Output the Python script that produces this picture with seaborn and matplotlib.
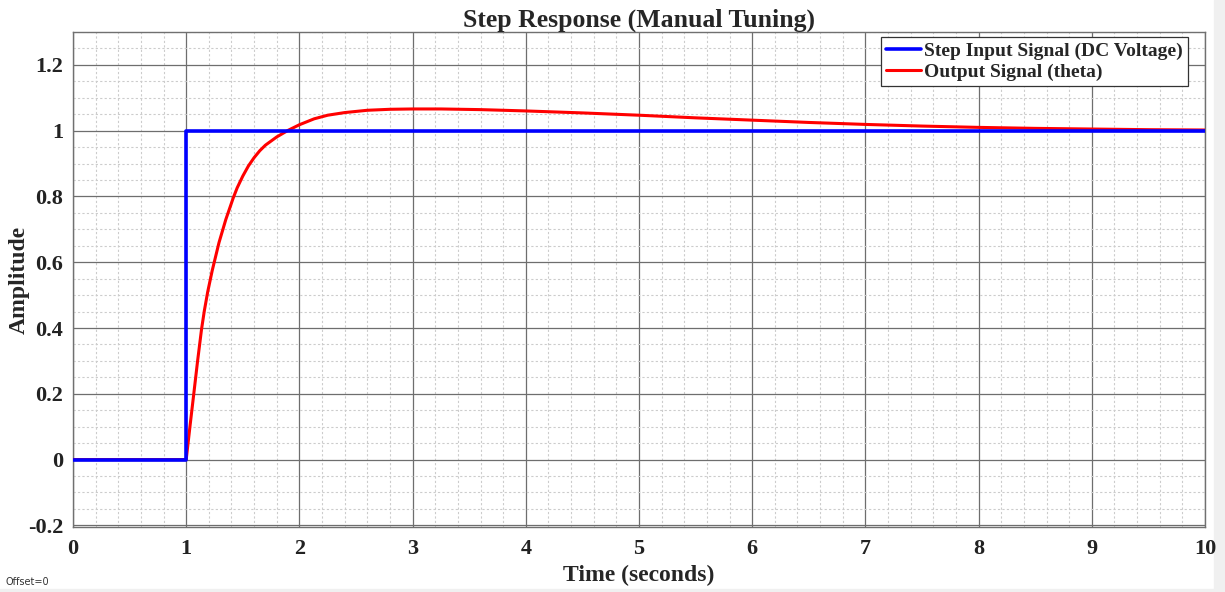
import numpy as np
import pandas as pd
import matplotlib
matplotlib.use("Agg")
import matplotlib.pyplot as plt
from matplotlib.ticker import MultipleLocator
from matplotlib.patches import Rectangle
import seaborn as sns

# Step input (DC voltage)
step_t = [0.0, 1.0, 1.0, 10.0]
step_v = [0.0, 0.0, 1.0, 1.0]

# Output signal (theta)
out_t = [0.0, 1.0, 1.033, 1.067, 1.10, 1.135, 1.16, 1.19, 1.23, 1.29, 1.35,
         1.415, 1.45, 1.50, 1.55, 1.60, 1.65, 1.70, 1.80, 1.90, 2.00, 2.13,
         2.25, 2.40, 2.60, 2.80, 3.00, 3.25, 3.60, 4.00, 4.50, 5.00, 5.50,
         6.00, 6.50, 7.00, 7.50, 8.00, 8.50, 9.00, 9.50, 10.0]
out_v = [0.0, 0.0, 0.100, 0.200, 0.298, 0.395, 0.452, 0.510, 0.575, 0.660, 0.730,
         0.795, 0.826, 0.862, 0.893, 0.918, 0.939, 0.956, 0.981, 1.001, 1.018, 1.036,
         1.047, 1.055, 1.062, 1.065, 1.066, 1.066, 1.064, 1.060, 1.054, 1.047, 1.039,
         1.032, 1.025, 1.019, 1.014, 1.010, 1.007, 1.005, 1.003, 1.002]

step_df = pd.DataFrame({"t": step_t, "v": step_v})
out_df = pd.DataFrame({"t": out_t, "v": out_v})

sns.set_style("white")
plt.rcParams["font.family"] = ["Liberation Serif", "DejaVu Serif"]

fig = plt.figure(figsize=(12.25, 5.92), dpi=100)
ax = fig.add_axes([73 / 1225, 1 - 527 / 592, (1205 - 73) / 1225, (527 - 32) / 592])

# red under blue, like the scope
sns.lineplot(data=out_df, x="t", y="v", color="#ff0000", lw=2.2, ax=ax,
             estimator=None, sort=False, label="Output Signal (theta)", zorder=3)
sns.lineplot(data=step_df, x="t", y="v", color="#0000ff", lw=2.6, ax=ax,
             estimator=None, sort=False, label="Step Input Signal (DC Voltage)", zorder=4)

ax.set_xlim(0, 10)
ax.set_ylim(-0.205, 1.3)
ax.xaxis.set_major_locator(MultipleLocator(1))
ax.xaxis.set_minor_locator(MultipleLocator(0.2))
ax.yaxis.set_minor_locator(MultipleLocator(0.05))
ax.set_yticks([-0.2, 0, 0.2, 0.4, 0.6, 0.8, 1.0, 1.2])
ax.set_yticklabels(["-0.2", "0", "0.2", "0.4", "0.6", "0.8", "1", "1.2"])

ax.grid(which="major", color="#6e6e6e", lw=0.9, ls="-")
ax.grid(which="minor", color="#cccccc", lw=0.8, ls=(0, (2, 2)))
ax.set_axisbelow(True)
for s in ax.spines.values():
    s.set_color("#707070")
    s.set_linewidth(1.0)

ax.tick_params(which="both", length=0, labelsize=16, pad=7)
for lab in ax.get_xticklabels() + ax.get_yticklabels():
    lab.set_fontweight("bold")
    lab.set_color("#222222")
ax.tick_params(axis="x", pad=9)

ax.set_title("Step Response (Manual Tuning)", fontsize=18.5, fontweight="bold", pad=4)
ax.set_xlabel("Time (seconds)", fontsize=17, fontweight="bold", labelpad=4)
ax.set_ylabel("Amplitude", fontsize=17, fontweight="bold")
ax.yaxis.set_label_coords(-0.038, 0.5)

h, l = ax.get_legend_handles_labels()
leg = ax.legend(h[::-1], l[::-1], loc="upper right",
                bbox_to_anchor=((1188 - 73) / 1132, (527 - 37) / 495),
                prop={"weight": "bold", "size": 14}, frameon=True, fancybox=False,
                borderaxespad=0, handlelength=1.8, handletextpad=0.2,
                labelspacing=0.2, borderpad=0.25)
leg.get_frame().set_edgecolor("#333333")
leg.get_frame().set_linewidth(0.9)
leg.get_frame().set_alpha(1)

fig.text(5 / 1225, 1 - 582 / 592, "Offset=0", fontsize=7, family="DejaVu Sans",
         color="#333333", va="center")
fig.add_artist(Rectangle((1214 / 1225, 0), 11 / 1225, 1, transform=fig.transFigure,
                         color="#f0f0f0", zorder=0))
fig.add_artist(Rectangle((0, 0), 1, 3 / 592, transform=fig.transFigure,
                         color="#f0f0f0", zorder=0))

fig.savefig("out.png", dpi=100)
